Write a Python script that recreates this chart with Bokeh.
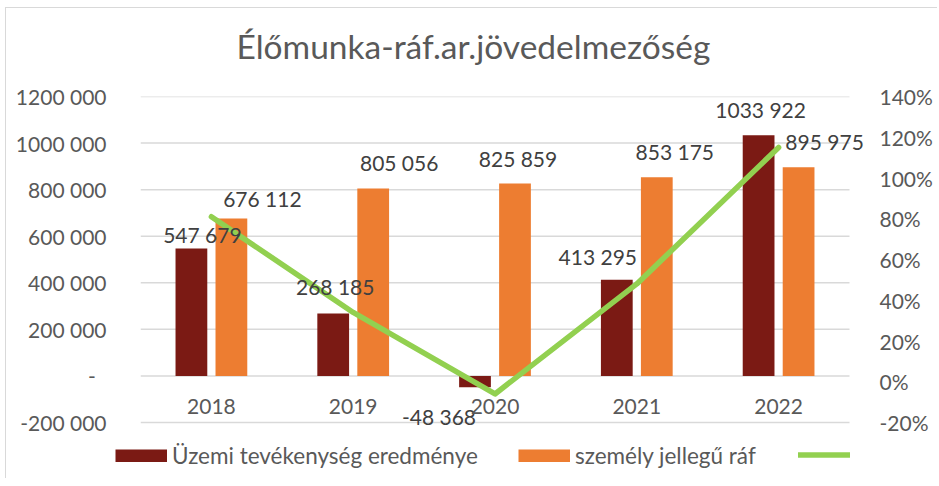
from bokeh.plotting import figure
from bokeh.models import (Range1d, LinearAxis, LabelSet, Legend, Title,
                          LegendItem, ColumnDataSource, FixedTicker)
from bokeh.core.properties import value
from bokeh.transform import dodge
from bokeh.embed import file_html
from bokeh.resources import INLINE

# ---------------- data ----------------
years = ["2018", "2019", "2020", "2021", "2022"]
uzemi = [547679, 268185, -48368, 413295, 1033922]          # Üzemi tevékenység eredménye
szemely = [676112, 805056, 825859, 853175, 895975]         # személy jellegű ráf
arany_pct = [81, 34, -6, 48, 115]                          # green line, % (right axis)
uzemi_labels = ["547 679", "268 185", "-48 368", "413 295", "1033 922"]
szemely_labels = ["676 112", "805 056", "825 859", "853 175", "895 975"]
left_ticks = [-200000, 0, 200000, 400000, 600000, 800000, 1000000, 1200000]
left_tick_labels = ["-200 000", "-\u00a0\u00a0", "200 000", "400 000", "600 000",
                    "800 000", "1000 000", "1200 000"]
right_ticks = [-20, 0, 20, 40, 60, 80, 100, 120, 140]
right_tick_labels = ["-20%", "0%", "20%", "40%", "60%", "80%", "100%", "120%", "140%"]
title_text = "Élőmunka-ráf.ar.jövedelmezőség"
legend_labels = ["Üzemi tevékenység eredménye", "személy jellegű ráf", ""]

# ---------------- layout / style (label nudges in screen px) ----------------
uzemi_dx = [11, 2, -36, -19, 2]
uzemi_dy = [14, 26.5, -29, 23.5, 25.5]
szemely_dx = [31, 26, 3, 18, 26]
szemely_dy = [20, 26, 25.5, 25.5, 25.5]
legend_x = [109, 512, 791.75]
legend_y = [9.5, 9.5, 17]

DARK = "#7B1A14"
ORANGE = "#ED7D31"
GREEN = "#92D050"
GRID = "#D9D9D9"
AXIS_TXT = "#595959"
LBL_TXT = "#404040"
BORDER = "1px solid #d9d9d9"
FONT = "Lato"
W = 931

# plot area: grid spans 709 x 326 px; frame is a bit larger (right / bottom)
# so that overhanging data labels are not clipped
GRID_W, GRID_H = 709, 326
EXT_R, EXT_B = 22, 7
n = len(years)
L0, L1 = left_ticks[0], left_ticks[-1]
R0, R1 = right_ticks[0], right_ticks[-1]
x_end = n * (GRID_W + EXT_R) / GRID_W
y_start = L0 - EXT_B * (L1 - L0) / GRID_H
r_start = R0 - EXT_B * (R1 - R0) / GRID_H

src = ColumnDataSource(dict(
    xc=[i + 0.5 for i in range(n)],
    year=years, uzemi=uzemi, szemely=szemely, arany=arany_pct,
    ulab=uzemi_labels, slab=szemely_labels,
    udx=uzemi_dx, udy=uzemi_dy, sdx=szemely_dx, sdy=szemely_dy,
    zero=[0] * n,
))
grid_src = ColumnDataSource(dict(y=left_ticks, x0=[0] * len(left_ticks),
                                 x1=[n] * len(left_ticks)))

p = figure(x_range=Range1d(0, x_end), y_range=Range1d(y_start, L1),
           frame_width=GRID_W + EXT_R, frame_height=GRID_H + EXT_B,
           min_border_left=134, min_border_right=W - 134 - GRID_W - EXT_R,
           min_border_top=88, min_border_bottom=16 - EXT_B,
           x_axis_location=None,
           output_backend="svg", toolbar_location=None,
           background_fill_color="white", border_fill_color="white")
p.outline_line_color = None
p.styles = {"margin-left": "5px", "margin-top": "7px",
            "border-top": BORDER, "border-left": BORDER}

# real title (outer)
p.title.text = title_text
p.title.align = "left"
p.title.offset = 96
p.title.standoff = 0
p.title.text_font = FONT
p.title.text_font_size = "33.5px"
p.title.text_font_style = "normal"
p.title.text_color = AXIS_TXT
# spacer (inner, next to the plot area) lifts the title
p.add_layout(Title(text=" ", text_font_size="1px", standoff=28), "above")

p.extra_y_ranges = {"pct": Range1d(r_start, R1)}

# left axis
ya = p.yaxis[0]
ya.ticker = FixedTicker(ticks=left_ticks)
ya.major_label_overrides = {t: l for t, l in zip(left_ticks, left_tick_labels)}
ya.axis_line_color = None
ya.major_tick_line_color = None
ya.minor_tick_line_color = None
ya.major_label_text_font = FONT
ya.major_label_text_font_size = "21px"
ya.major_label_text_color = AXIS_TXT
ya.major_label_standoff = 28

# right axis
ra = LinearAxis(y_range_name="pct", ticker=FixedTicker(ticks=right_ticks))
ra.major_label_overrides = {t: l for t, l in zip(right_ticks, right_tick_labels)}
ra.axis_line_color = None
ra.major_tick_line_color = None
ra.minor_tick_line_color = None
ra.major_label_text_font = FONT
ra.major_label_text_font_size = "21px"
ra.major_label_text_color = AXIS_TXT
ra.major_label_standoff = 24 - EXT_R
p.add_layout(ra, "right")

p.xgrid.visible = False
p.ygrid.visible = False
p.segment(x0="x0", x1="x1", y0="y", y1="y", source=grid_src,
          line_color=GRID, line_width=1.5)

# bars
p.vbar(x=dodge("xc", -0.141), top="uzemi", width=0.224,
       source=src, fill_color=DARK, line_color=None)
p.vbar(x=dodge("xc", 0.141), top="szemely", width=0.224,
       source=src, fill_color=ORANGE, line_color=None)

# line
p.line(x="xc", y="arany", source=src, y_range_name="pct",
       line_color=GREEN, line_width=5.5, line_cap="round", line_join="round")

# data labels
lab_style = dict(text_font=value(FONT), text_font_size=value("21px"), text_color=LBL_TXT,
                 text_align="center", text_baseline="middle", source=src)
p.add_layout(LabelSet(x=dodge("xc", -0.141), y="uzemi", text="ulab",
                      x_offset="udx", y_offset="udy", **lab_style))
p.add_layout(LabelSet(x=dodge("xc", 0.141), y="szemely", text="slab",
                      x_offset="sdx", y_offset="sdy", **lab_style))

# category labels
p.add_layout(LabelSet(x="xc", y="zero", text="year", y_offset=-31,
                      text_font=value(FONT), text_font_size=value("21px"),
                      text_color=AXIS_TXT, text_align="center", text_baseline="middle",
                      source=src))

# ---------------- legend strip (separate root below the chart) ----------------
lg = figure(width=W, height=40, x_range=Range1d(0, W), y_range=Range1d(0, 40),
            min_border=0, output_backend="svg", toolbar_location=None,
            x_axis_location=None, y_axis_location=None,
            background_fill_color="white", border_fill_color="white")
lg.outline_line_color = None
lg.grid.visible = False
lg.styles = {"margin-left": "5px", "border-left": BORDER}
k1 = lg.line(x=[-20, -10], y=[-20, -20], line_color=DARK, line_width=13, line_cap="butt")
k2 = lg.line(x=[-20, -10], y=[-20, -20], line_color=ORANGE, line_width=13, line_cap="butt")
k3 = lg.line(x=[-20, -10], y=[-20, -20], line_color=GREEN, line_width=5.5, line_cap="round")
for lbl, rend, lx, ly in zip(legend_labels, [k1, k2, k3], legend_x, legend_y):
    lg.add_layout(Legend(items=[LegendItem(label=lbl, renderers=[rend])],
                         orientation="horizontal", location=(lx, ly),
                         glyph_width=52, glyph_height=13, label_standoff=5,
                         padding=0, margin=0, border_line_color=None,
                         background_fill_alpha=0,
                         label_text_font=FONT, label_text_font_size="22.5px",
                         label_text_color=AXIS_TXT), "center")

open("out.html", "w").write(file_html([p, lg], INLINE))
